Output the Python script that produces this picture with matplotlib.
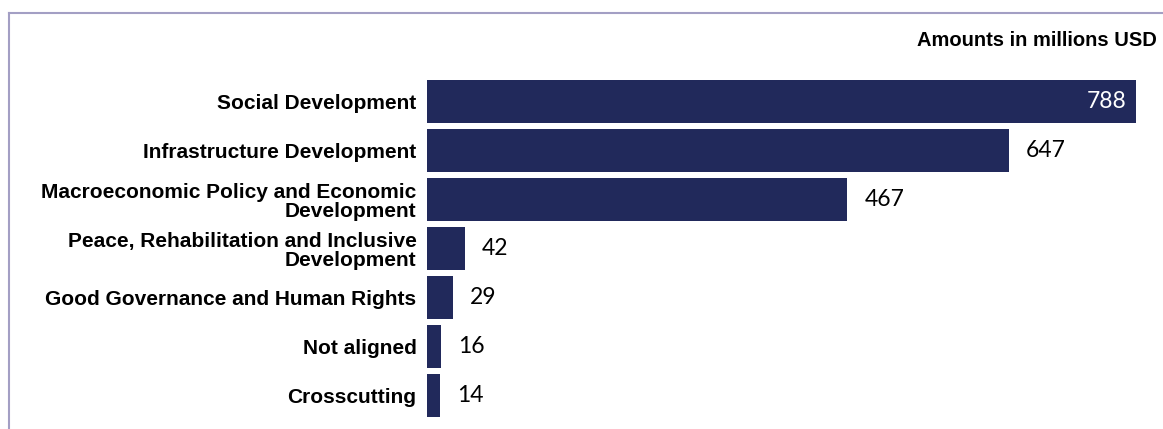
import matplotlib.pyplot as plt
from matplotlib.lines import Line2D

categories = [
    "Social Development",
    "Infrastructure Development",
    "Macroeconomic Policy and Economic\nDevelopment",
    "Peace, Rehabilitation and Inclusive\nDevelopment",
    "Good Governance and Human Rights",
    "Not aligned",
    "Crosscutting",
]
values = [788, 647, 467, 42, 29, 16, 14]

bar_color = "#21295B"
frame_color = "#A39FC4"

W, H = 1163, 429
fig = plt.figure(figsize=(W / 100, H / 100), dpi=100)
fig.patch.set_facecolor("white")

ax = fig.add_axes([427 / W, 1 - 419.75 / H, (1136 - 427) / W, (419.75 - 77.25) / H])
pos = list(range(len(categories)))
ax.barh(pos, values, height=0.89, color=bar_color)
ax.set_xlim(0, max(values))
ax.set_ylim(len(categories) - 0.5, -0.5)
ax.set_xticks([])
ax.set_yticks(pos)
ax.set_yticklabels(categories, fontfamily="Liberation Sans", fontweight="bold",
                   fontsize=15, linespacing=1.05, color="black")
ax.tick_params(axis="y", length=0, pad=7.5)
for s in ax.spines.values():
    s.set_visible(False)

for i, v in enumerate(values):
    if v == max(values):
        ax.text(v - 11, i, str(v), ha="right", va="center", color="white",
                fontsize=16.5, fontfamily="Lato")
    else:
        ax.text(v + 19, i, str(v), ha="left", va="center", color="black",
                fontsize=16.5, fontfamily="Lato")

fig.text(1157 / W, 1 - 40 / H, "Amounts in millions USD", ha="right", va="center",
         fontfamily="Liberation Sans", fontweight="bold", fontsize=14.5, color="black")

# frame lines along the top and left edges
fig.add_artist(Line2D([9 / W, 1], [1 - 12.5 / H] * 2, color=frame_color, lw=1.5,
                      transform=fig.transFigure))
fig.add_artist(Line2D([9 / W] * 2, [0, 1 - 12.5 / H], color=frame_color, lw=1.5,
                      transform=fig.transFigure))

fig.savefig("out.png", dpi=100)
